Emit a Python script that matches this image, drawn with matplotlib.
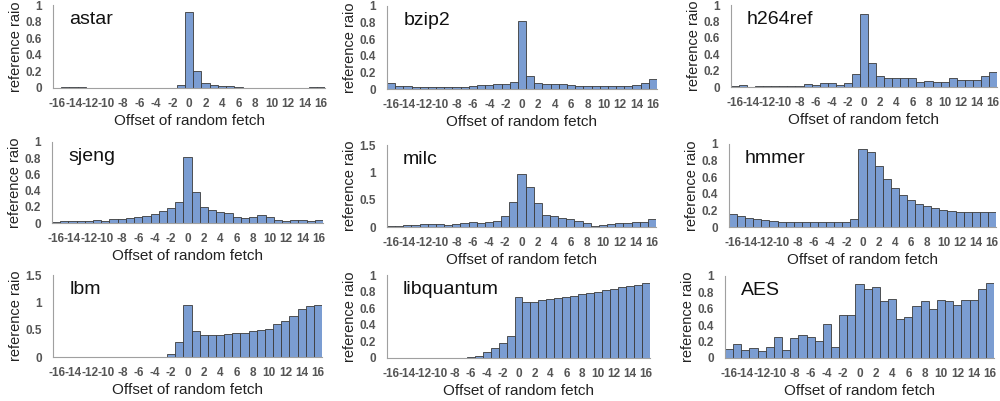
import numpy as np
import matplotlib.pyplot as plt

plt.rcParams['font.family'] = ['Liberation Sans', 'DejaVu Sans']

offsets = np.arange(-16, 17)
tick_labels = [str(v) for v in range(-16, 17, 2)]

astar = [0.005, 0.01, 0.015, 0.01, 0.003, 0.003, 0.003, 0.003, 0.003, 0.003, 0.003,
         0.003, 0.003, 0.003, 0.003, 0.035, 0.91, 0.21, 0.055, 0.04, 0.03, 0.02, 0.015,
         0.003, 0.003, 0.003, 0.003, 0.003, 0.003, 0.003, 0.003, 0.015, 0.015]
bzip2 = [0.075, 0.04, 0.035, 0.025, 0.025, 0.025, 0.03, 0.03, 0.025, 0.03, 0.04,
         0.045, 0.045, 0.055, 0.06, 0.09, 0.82, 0.16, 0.075, 0.06, 0.055, 0.06, 0.045,
         0.04, 0.04, 0.04, 0.04, 0.04, 0.04, 0.04, 0.045, 0.07, 0.12]
h264ref = [0.01, 0.02, 0.005, 0.01, 0.01, 0.015, 0.01, 0.01, 0.01, 0.04, 0.03,
           0.045, 0.05, 0.03, 0.05, 0.16, 0.89, 0.29, 0.13, 0.105, 0.105, 0.115, 0.105,
           0.065, 0.07, 0.06, 0.06, 0.115, 0.08, 0.08, 0.09, 0.13, 0.18]
sjeng = [0.015, 0.02, 0.02, 0.02, 0.03, 0.035, 0.03, 0.045, 0.05, 0.06, 0.075,
         0.09, 0.11, 0.15, 0.185, 0.26, 0.82, 0.38, 0.2, 0.16, 0.135, 0.12, 0.07,
         0.065, 0.075, 0.1, 0.07, 0.035, 0.03, 0.035, 0.035, 0.03, 0.04]
milc = [0.02, 0.01, 0.03, 0.04, 0.05, 0.05, 0.05, 0.045, 0.05, 0.07, 0.1,
        0.08, 0.1, 0.11, 0.2, 0.46, 0.97, 0.74, 0.44, 0.22, 0.2, 0.16, 0.155,
        0.11, 0.07, 0.01, 0.04, 0.05, 0.07, 0.08, 0.1, 0.09, 0.14]
hmmer = [0.16, 0.13, 0.11, 0.095, 0.08, 0.07, 0.06, 0.06, 0.06, 0.06, 0.055,
         0.055, 0.055, 0.055, 0.065, 0.1, 0.94, 0.9, 0.74, 0.58, 0.47, 0.38, 0.33,
         0.28, 0.25, 0.23, 0.2, 0.19, 0.18, 0.18, 0.18, 0.18, 0.18]
lbm = [0, 0, 0, 0, 0, 0, 0, 0, 0, 0, 0.005,
       0.005, 0.005, 0.005, 0.05, 0.28, 0.95, 0.48, 0.4, 0.41, 0.41, 0.42, 0.43,
       0.44, 0.48, 0.49, 0.51, 0.6, 0.66, 0.75, 0.88, 0.93, 0.95]
libquantum = [0, 0, 0, 0, 0, 0.005, 0, 0.003, 0.003, 0.005, 0.01,
              0.03, 0.07, 0.12, 0.18, 0.27, 0.74, 0.67, 0.68, 0.7, 0.71, 0.72, 0.73,
              0.75, 0.77, 0.78, 0.8, 0.82, 0.83, 0.85, 0.87, 0.88, 0.9]
aes = [0.11, 0.17, 0.1, 0.12, 0.08, 0.14, 0.26, 0.1, 0.24, 0.28, 0.26,
       0.21, 0.41, 0.13, 0.53, 0.53, 0.9, 0.84, 0.86, 0.7, 0.72, 0.48, 0.5,
       0.63, 0.7, 0.6, 0.71, 0.69, 0.65, 0.71, 0.71, 0.84, 0.91]

# name, values, y max, y step, pixel box (left, top, right, bottom)
panels = [
    ("astar", astar, 1.0, 0.2, (53, 5, 325, 88)),
    ("bzip2", bzip2, 1.0, 0.2, (387, 6, 657, 89)),
    ("h264ref", h264ref, 1.0, 0.2, (731, 5, 997, 87)),
    ("sjeng", sjeng, 1.0, 0.2, (52, 142, 323, 223)),
    ("milc", milc, 1.5, 0.5, (387, 145, 656, 227)),
    ("hmmer", hmmer, 1.0, 0.2, (729, 144, 996, 227)),
    ("lbm", lbm, 1.5, 0.5, (53, 275, 322, 357)),
    ("libquantum", libquantum, 1.0, 0.2, (387, 275, 650, 358)),
    ("AES", aes, 1.0, 0.2, (725, 276, 994, 358)),
]

W, H = 1000, 401
fig = plt.figure(figsize=(W / 100, H / 100), dpi=100)
fig.patch.set_facecolor('white')

for name, vals, ymax, ystep, (l, t, r, b) in panels:
    ax = fig.add_axes([l / W, 1 - b / H, (r - l) / W, (b - t) / H])
    ax.bar(offsets, vals, width=1.0, color='#7B9DD2', edgecolor='#3a3a3a', linewidth=0.6)
    ax.set_xlim(-16.5, 16.5)
    ax.set_ylim(0, ymax)
    ax.set_xticks(range(-16, 17, 2))
    ax.set_xticklabels(tick_labels)
    yt = np.round(np.arange(0, ymax + 1e-9, ystep), 2)
    ax.set_yticks(yt)
    ax.set_yticklabels(['%g' % v for v in yt])
    for s in ['top', 'right']:
        ax.spines[s].set_visible(False)
    ax.spines['left'].set_color('#a0a0a0')
    ax.spines['bottom'].set_color('#a0a0a0')
    ax.tick_params(length=0, labelsize=8.5, colors='#555555')
    ax.tick_params(axis='x', pad=7)
    ax.tick_params(axis='y', pad=8)
    for lab in ax.get_xticklabels() + ax.get_yticklabels():
        lab.set_fontweight('bold')
    ax.set_xlabel("Offset of random fetch", fontsize=11, color='#222222', labelpad=3)
    ax.set_ylabel("reference raio", fontsize=10.5, color='#222222', labelpad=2)
    ax.text(0.06, 0.93, name, transform=ax.transAxes, fontsize=14, va='top', ha='left', color='#111111')

fig.savefig("out.png", dpi=100)
